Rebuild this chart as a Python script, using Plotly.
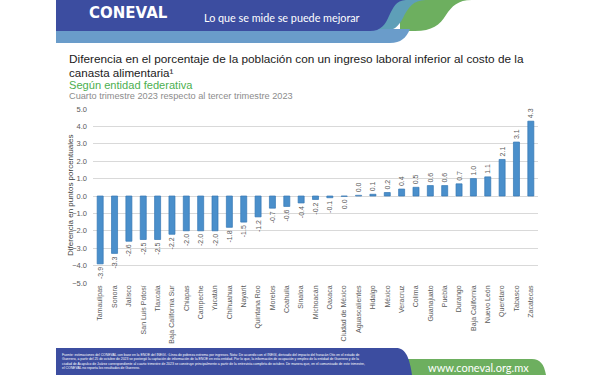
import plotly.graph_objects as go

# ---------------- data ----------------
estados = ["Tamaulipas", "Sonora", "Jalisco", "San Luis Potosí", "Tlaxcala",
           "Baja California Sur", "Chiapas", "Campeche", "Yucatán", "Chihuahua",
           "Nayarit", "Quintana Roo", "Morelos", "Coahuila", "Sinaloa",
           "Michoacán", "Oaxaca", "Ciudad de México", "Aguascalientes", "Hidalgo",
           "México", "Veracruz", "Colima", "Guanajuato", "Puebla", "Durango",
           "Baja California", "Nuevo León", "Querétaro", "Tabasco", "Zacatecas"]
diferencia = [-3.9, -3.3, -2.6, -2.5, -2.5, -2.2, -2.0, -2.0, -2.0, -1.8,
              -1.5, -1.2, -0.7, -0.6, -0.4, -0.2, -0.1, -0.02, 0.04, 0.1,
              0.2, 0.4, 0.5, 0.6, 0.6, 0.7, 1.0, 1.1, 2.1, 3.1, 4.3]
ytick_vals = [5, 4, 3, 2, 1, 0, -1, -2, -3, -4, -5]

W, H = 600, 375
L, R, T, B = 93, 62, 109, 92
PW, PH = W - L - R, H - T - B


def fmt(v):
    s = f"{v:.1f}"
    return "0.0" if s == "-0.0" else s


labels = [fmt(v) for v in diferencia]
colors = ["#9DC3E6" if e == "Aguascalientes" else "#4A8FCB" for e in estados]

fig = go.Figure()
fig.add_trace(go.Bar(
    x=estados, y=diferencia,
    marker=dict(color=colors, line=dict(color="#3477B4", width=0.7)),
    text=labels, textposition="outside", textangle=-90,
    textfont=dict(family="Liberation Sans, Arial", size=7, color="#595959"),
    constraintext="none", cliponaxis=False,
    hoverinfo="x+y",
))


# ---------------- decorative header/footer (pixel -> paper) ----------------
def P(x, y):
    return f"{(x - L) / PW:.5f},{(H - B - y) / PH:.5f}"


def path(cmds):
    out = []
    for c in cmds:
        if isinstance(c, str):
            out.append(c)
        else:
            pts = [P(c[i], c[i + 1]) for i in range(0, len(c), 2)]
            out.append(" ".join(pts))
    return " ".join(out)


shapes = []


def add(cmds, color):
    shapes.append(dict(type="path", xref="paper", yref="paper", layer="above",
                       path=path(cmds), fillcolor=color, line=dict(width=0)))


# header
add(["M", (400, 0), "L", (472, 0), "C", (458, 0, 452, 6, 446, 15),
     "C", (440, 25, 432, 31, 415, 31), "L", (400, 31), "Z"], "#6DAF5F")
add(["M", (370, 0), "L", (426, 0), "C", (413, 0, 408, 8, 403, 18),
     "C", (398, 27, 394, 31, 382, 31), "L", (370, 31), "Z"], "#5E9FB8")
add(["M", (56, 29), "L", (410, 29), "C", (406, 38, 401, 43, 390, 43),
     "L", (56, 43), "Z"], "#6A9CCA")
add(["M", (56, 0), "L", (406, 0), "C", (396, 0, 393, 8, 389, 16),
     "C", (385, 25, 381, 31, 370, 31), "L", (56, 31), "Z"], "#3C4DA0")
# footer
add(["M", (395, 359), "L", (532, 359), "C", (540, 359, 544, 364, 546, 375),
     "L", (395, 375), "Z"], "#6DAF5F")
add(["M", (56, 348), "L", (396, 348), "C", (404, 348, 409, 354, 412, 375),
     "L", (56, 375), "Z"], "#3C4DA0")


def px(x):
    return (x - L) / PW


def py(y):
    return (H - B - y) / PH


foot = ("Fuente: estimaciones del CONEVAL con base en la ENOE del INEGI. ¹Línea de pobreza extrema por ingresos. "
        "Nota: De acuerdo con el INEGI, derivado del impacto del huracán Otis en el estado de<br>"
        "Guerrero, a partir del 25 de octubre de 2023 se postergó la captación de información de la ENOE en esta entidad. "
        "Por lo que, la información de ocupación y empleo de la entidad de Guerrero y de la<br>"
        "ciudad de Acapulco de Juárez correspondiente al cuarto trimestre de 2023 se construye principalmente a partir "
        "de la entrevista completa de octubre. De manera que, en el comunicado de este trimestre,<br>"
        "el CONEVAL no reporta los resultados de Guerrero.")

TF = "Liberation Sans, Arial"


def note(x, y, text, size, color, family=TF, xanchor="left", angle=0):
    return dict(x=px(x), y=py(y), xanchor=xanchor, yanchor="middle", xref="paper", yref="paper",
                text=text, showarrow=False, align="left", textangle=angle,
                font=dict(family=family, size=size, color=color))


annotations = [
    note(87, 13, "<b>CONEVAL</b>", 15, "white", family="DejaVu Sans, Arial Black"),
    note(202, 17, "Lo que se mide se puede mejorar", 10.8, "white", family="Lato, Arial"),
    note(67, 59.5, "Diferencia en el porcentaje de la población con un ingreso laboral inferior al costo de la",
         11.8, "#1a1a1a"),
    note(67, 72.6, "canasta alimentaria¹", 11.6, "#1a1a1a"),
    note(67, 84.6, "Según entidad federativa", 11.1, "#4CAF50"),
    note(67, 96.4, "Cuarto trimestre 2023 respecto al tercer trimestre 2023", 9.2, "#8c8c8c"),
    note(70, 196, "Diferencia en puntos porcentuales", 8, "#404040", xanchor="center", angle=-90),
    note(60, 361.5, foot, 3.4, "white"),
    note(478, 367, "www.coneval.org.mx", 11, "white", family="Lato, Arial", xanchor="center"),
]

fig.update_layout(
    width=W, height=H,
    margin=dict(l=L, r=R, t=T, b=B, pad=0),
    paper_bgcolor="white", plot_bgcolor="white",
    bargap=0.58, showlegend=False,
    shapes=shapes, annotations=annotations,
    font=dict(family=TF, color="#595959"),
)
fig.update_xaxes(
    tickangle=-90, tickfont=dict(size=7, color="#595959"),
    showgrid=False, showline=False, ticks="", ticklen=0, automargin=False,
)
fig.update_yaxes(
    range=[-5, 5], tickvals=ytick_vals, tickformat=".1f",
    tickfont=dict(size=7.5, color="#595959"),
    gridcolor="#D9D9D9", gridwidth=1, zeroline=True, zerolinecolor="#D9D9D9", zerolinewidth=1,
    showline=False, ticks="", ticklabelstandoff=5, automargin=False,
)

fig.write_html("out.html", config={"displayModeBar": False},
               post_script="document.body.style.margin='0';document.body.style.overflow='hidden';")
